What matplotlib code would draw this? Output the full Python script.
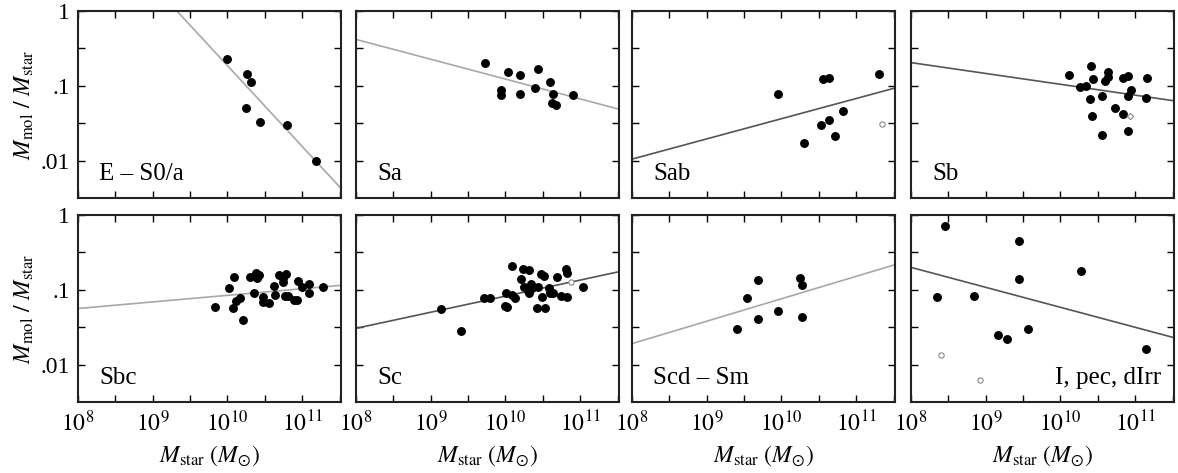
import numpy as np
import matplotlib
matplotlib.use('Agg')
import matplotlib.pyplot as plt
from matplotlib.ticker import FixedLocator, NullFormatter

plt.rcParams['font.family'] = ['Liberation Serif', 'DejaVu Serif']
plt.rcParams['mathtext.fontset'] = 'stix'

# ── data: log10(M_star) and M_mol/M_star per morphological class ──
labels = ['E – S0/a', 'Sa', 'Sab', 'Sb', 'Sbc', 'Sc', 'Scd – Sm', 'I, pec, dIrr']

e_logm = [10.00, 10.26, 10.32, 10.25, 10.44, 10.80, 11.18]
e_ratio = [0.23, 0.142, 0.112, 0.051, 0.033, 0.0295, 0.010]

sa_logm = [9.73, 10.04, 10.20, 10.44, 10.59, 10.40, 10.64, 10.91, 9.94, 9.94, 10.20, 10.62, 10.68]
sa_ratio = [0.204, 0.153, 0.141, 0.168, 0.112, 0.093, 0.078, 0.075, 0.087, 0.075, 0.077, 0.058, 0.056]

sab_logm = [9.95, 10.55, 10.64, 11.30, 10.82, 10.63, 10.53, 10.72, 10.30]
sab_ratio = [0.077, 0.122, 0.128, 0.145, 0.046, 0.035, 0.030, 0.021, 0.0174]
sab_open_logm = [11.34]
sab_open_ratio = [0.031]

sb_logm = [10.11, 10.41, 10.43, 10.26, 10.34, 10.64, 10.63, 10.60, 10.84, 10.90, 11.16,
           10.94, 10.90, 11.14, 10.39, 10.55, 10.73, 10.84, 10.42, 10.55, 10.90]
sb_ratio = [0.141, 0.184, 0.122, 0.096, 0.098, 0.153, 0.131, 0.115, 0.128, 0.134, 0.127,
            0.089, 0.072, 0.068, 0.066, 0.072, 0.051, 0.042, 0.040, 0.022, 0.025]
sb_open_logm = [10.93]
sb_open_ratio = [0.039]

sbc_logm = [9.84, 10.02, 10.09, 10.08, 10.12, 10.17, 10.21, 10.30, 10.36, 10.38, 10.42,
            10.40, 10.47, 10.47, 10.56, 10.62, 10.63, 10.69, 10.74, 10.75, 10.79, 10.77,
            10.81, 10.89, 10.93, 10.95, 11.00, 11.09, 11.09, 11.28]
sbc_ratio = [0.059, 0.107, 0.147, 0.057, 0.071, 0.078, 0.039, 0.150, 0.092, 0.169, 0.158,
             0.145, 0.079, 0.069, 0.067, 0.112, 0.085, 0.156, 0.144, 0.128, 0.161, 0.083,
             0.083, 0.072, 0.073, 0.132, 0.108, 0.118, 0.090, 0.108]

sc_logm = [9.14, 9.40, 9.71, 9.80, 10.01, 10.00, 10.02, 10.09, 10.09, 10.13, 10.21, 10.23,
           10.31, 10.25, 10.30, 10.32, 10.34, 10.36, 10.42, 10.44, 10.48, 10.51, 10.49,
           10.53, 10.58, 10.60, 10.63, 10.69, 10.74, 10.81, 10.82, 10.82, 11.04]
sc_ratio = [0.055, 0.028, 0.077, 0.077, 0.092, 0.061, 0.059, 0.21, 0.085, 0.077, 0.138, 0.19,
            0.184, 0.110, 0.097, 0.092, 0.120, 0.105, 0.057, 0.110, 0.163, 0.154, 0.081,
            0.057, 0.105, 0.090, 0.092, 0.147, 0.083, 0.188, 0.169, 0.079, 0.109]
sc_open_logm = [10.88]
sc_open_ratio = [0.128]

scd_logm = [9.40, 9.54, 9.69, 9.69, 9.96, 10.25, 10.28, 10.27]
scd_ratio = [0.030, 0.078, 0.134, 0.041, 0.052, 0.143, 0.117, 0.043]

irr_logm = [8.46, 8.35, 8.84, 9.45, 9.45, 10.28, 9.16, 9.29, 9.57, 11.14]
irr_ratio = [0.71, 0.081, 0.083, 0.45, 0.139, 0.176, 0.025, 0.022, 0.0295, 0.016]
irr_open_logm = [8.40, 8.92]
irr_open_ratio = [0.0135, 0.0062]

# fit lines: log ratio at log M = 8, slope
fit_at8 = [1.43, -0.38, -1.98, -0.69, -1.25, -1.515, -1.72, -0.70]
fit_slope = [-1.08, -0.265, 0.27, -0.145, 0.088, 0.215, 0.30, -0.267]
fit_dark = [False, False, True, True, False, True, False, True]

filled = [(e_logm, e_ratio), (sa_logm, sa_ratio), (sab_logm, sab_ratio), (sb_logm, sb_ratio),
          (sbc_logm, sbc_ratio), (sc_logm, sc_ratio), (scd_logm, scd_ratio), (irr_logm, irr_ratio)]
open_pts = {2: (sab_open_logm, sab_open_ratio, 'o'), 3: (sb_open_logm, sb_open_ratio, 'D'),
            5: (sc_open_logm, sc_open_ratio, 'o'), 7: (irr_open_logm, irr_open_ratio, 'o')}

# ── figure ──
W, H = 1178, 473
fig = plt.figure(figsize=(W / 100, H / 100), dpi=100)
lefts = [78, 356, 632, 911]
tops = [11, 215]
pw, ph = 263, 187

xmin, xmax = 1e8, 10 ** 11.52
ymin, ymax = 10 ** -2.5, 1.0

for i in range(8):
    r, c = divmod(i, 4)
    ax = fig.add_axes([lefts[c] / W, 1 - (tops[r] + ph) / H, pw / W, ph / H])
    ax.set_xscale('log')
    ax.set_yscale('log')
    ax.set_xlim(xmin, xmax)
    ax.set_ylim(ymin, ymax)

    xs = np.array([8.0, 11.52])
    ys = fit_at8[i] + fit_slope[i] * (xs - 8)
    ax.plot(10 ** xs, 10 ** ys, color='#555555' if fit_dark[i] else '#a8a8a8', lw=1.2, zorder=2)

    lm, rt = filled[i]
    ax.plot(10 ** np.array(lm), rt, 'o', color='black', ms=5.4, mec='black', zorder=3)
    if i in open_pts:
        olm, ort, mk = open_pts[i]
        ax.plot(10 ** np.array(olm), ort, mk, mfc='white', mec='#888888', mew=0.8,
                ms=3.8 if mk == 'o' else 3.2, zorder=4)

    ax.xaxis.set_major_locator(FixedLocator([1e8, 1e9, 1e10, 1e11]))
    ax.xaxis.set_minor_locator(FixedLocator([10 ** 8.5, 10 ** 9.5, 10 ** 10.5, 10 ** 11.5]))
    ax.yaxis.set_major_locator(FixedLocator([0.01, 0.1, 1.0]))
    ax.yaxis.set_minor_locator(FixedLocator([10 ** -1.5, 10 ** -0.5]))
    ax.xaxis.set_minor_formatter(NullFormatter())
    ax.yaxis.set_minor_formatter(NullFormatter())
    ax.tick_params(which='both', direction='in', top=True, right=True,
                   length=5, width=1.0, labelsize=17, pad=6)

    if r == 1:
        ax.set_xticklabels([r'$10^{8}$', r'$10^{9}$', r'$10^{10}$', r'$10^{11}$'])
        ax.set_xlabel(r'$M_{\rm star}\ (M_{\odot})$', fontsize=17, labelpad=5)
    else:
        ax.set_xticklabels([])
    if c == 0:
        ax.set_yticklabels(['.01', '.1', '1'])
        ax.set_ylabel(r'$M_{\rm mol}\ /\ M_{\rm star}$', fontsize=17, labelpad=3)
    else:
        ax.set_yticklabels([])

    for sp in ax.spines.values():
        sp.set_linewidth(1.5)
        sp.set_color('#222222')

    if i == 7:
        ax.text(0.95, 0.07, labels[i], transform=ax.transAxes, ha='right', va='bottom', fontsize=18)
    else:
        ax.text(0.08, 0.07, labels[i], transform=ax.transAxes, ha='left', va='bottom', fontsize=18)

fig.savefig('out.png', dpi=100)
